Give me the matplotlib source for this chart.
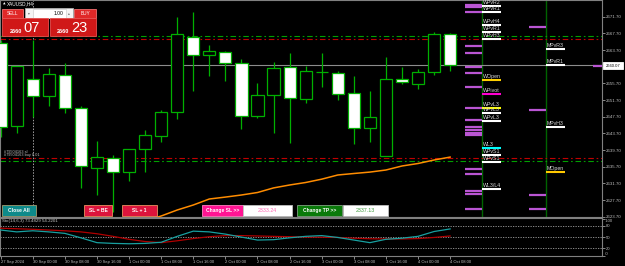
import matplotlib
matplotlib.use('Agg')
import matplotlib.pyplot as plt
import numpy as np
from matplotlib.patches import Rectangle

plt.rcParams['font.family'] = ['Liberation Sans', 'DejaVu Sans']

# ---------------- data ----------------
bar_index = list(range(-2, 27))
opens  = [2665.3, 2645.4, 2656.67, 2652.6, 2657.7, 2649.85, 2635.45, 2637.85, 2634.4, 2639.9,
          2643.0, 2648.75, 2666.9, 2662.4, 2663.1, 2660.5, 2647.9, 2652.8, 2659.6, 2652.0,
          2658.3, 2658.25, 2653.3, 2644.9, 2638.3, 2656.7, 2655.6, 2658.35, 2667.5]
highs  = [2666.0, 2659.9, 2666.1, 2659.3, 2660.5, 2650.3, 2641.9, 2638.5, 2640.0, 2644.5,
          2649.3, 2671.7, 2672.9, 2664.9, 2663.5, 2661.5, 2655.9, 2660.9, 2663.1, 2659.9,
          2662.9, 2658.7, 2657.5, 2653.9, 2662.1, 2659.7, 2659.1, 2667.95, 2667.7]
lows   = [2642.8, 2643.8, 2647.6, 2650.3, 2648.5, 2630.5, 2628.9, 2624.8, 2632.3, 2634.5,
          2641.7, 2647.1, 2653.9, 2657.5, 2656.3, 2644.7, 2647.3, 2643.85, 2641.3, 2651.05,
          2654.9, 2651.7, 2641.1, 2641.7, 2638.3, 2655.5, 2654.3, 2657.7, 2658.7]
closes = [2645.15, 2659.8, 2652.66, 2657.9, 2649.7, 2635.9, 2638.0, 2634.5, 2639.9, 2643.2,
          2648.75, 2667.5, 2662.4, 2663.4, 2660.65, 2647.9, 2652.9, 2659.4, 2652.2, 2658.7,
          2658.4, 2653.2, 2644.9, 2647.5, 2656.7, 2656.0, 2658.35, 2667.5, 2660.07]

trail_index = list(range(6, 27))
trail_values = [2621.5, 2622.66, 2623.86, 2625.3, 2626.5, 2627.94, 2628.4, 2628.9, 2629.5, 2630.6,
                2631.3, 2631.9, 2632.7, 2633.7, 2634.06, 2634.4, 2634.9, 2635.86, 2636.46,
                2637.3, 2638.0]

stoch_main   = [69, 64, 67, 64, 60, 48, 35, 33, 32, 33, 36, 52, 66, 64, 58, 50, 42, 43, 48, 52,
                54, 49, 42, 35, 44, 47, 52, 65, 72]
stoch_signal = [74, 72.5, 71, 69, 67, 64, 59, 52, 44, 38, 35, 40, 46, 51, 54, 54, 53, 52, 51, 50,
                49.6, 49, 47, 45.5, 45, 45, 46, 49, 53]

bid_price = 2660.07
ask_price = 2660.23
upper_tp, upper_sl = 2667.06, 2666.27
lower_sl, lower_tp = 2637.70, 2637.06

price_ticks = [2623.70 + 4 * i for i in range(13)]
stoch_levels = [0, 20, 50, 80, 100]
time_ticks = [-2] + list(range(0, 27, 2))
time_labels = ['27 Sep 2024', '30 Sep 00:00', '30 Sep 08:00', '30 Sep 16:00', '1 Oct 00:00',
               '1 Oct 08:00', '1 Oct 16:00', '2 Oct 00:00', '2 Oct 08:00', '2 Oct 16:00',
               '3 Oct 00:00', '3 Oct 08:00', '3 Oct 16:00', '4 Oct 00:00', '4 Oct 08:00']

weekly_zone_levels = [2674.57, 2673.95, 2672.82, 2664.73, 2662.98, 2659.69, 2658.11, 2654.75,
                      2649.85, 2646.97, 2645.22, 2644.5, 2643.85, 2643.37, 2635.14, 2633.94,
                      2629.86, 2629.07, 2625.54]
monthly_zone_levels = [2669.22, 2649.37, 2628.83, 2625.54]
next_zone_levels = [2659.86]

weekly_labels = ['WPvR2', 'WPvR1', 'WPvH4', 'WPvR1', 'WPvH3', 'WOpen', 'WPivot', 'WPvL3',
                 'WPvL3', 'WPvL3', 'WL3', 'WPvS1', 'WPvS1', 'WL3/L4']
weekly_label_prices = [2674.33, 2672.82, 2669.70, 2668.09, 2666.34, 2656.50, 2653.07, 2649.85,
                       2648.50, 2646.66, 2640.25, 2638.50, 2636.90, 2630.34]
weekly_label_colors = ['white', 'white', 'white', 'white', 'white', '#ffd000', '#ff00d0',
                       '#ffff00', 'white', 'white', '#00ffff', 'white', 'white', 'white']
monthly_labels = ['MPvR3', 'MPvR1', 'MPvH3', 'MOpen']
monthly_label_prices = [2663.87, 2660.03, 2645.29, 2634.49]
monthly_label_colors = ['white', 'white', 'white', '#ffc800']

weekly_start, monthly_start = 28, 32

# ---------------- figure ----------------
W, H = 625, 266
fig = plt.figure(figsize=(W / 100, H / 100), dpi=100, facecolor='black')
ax = fig.add_axes([0, 1 - 217 / H, 602 / W, 217 / H], facecolor='black')
ax2 = fig.add_axes([0, 1 - 256 / H, 602 / W, 38.5 / H], facecolor='black', sharex=ax)

grey = '#808080'
for a in (ax, ax2):
    for s in a.spines.values():
        s.set_color(grey)
        s.set_linewidth(0.8)

ax.set_xlim(-2.04, 35.46)
ax.set_ylim(2623.62, 2675.7)

wick = '#00b000'
x = np.array(bar_index)
o = np.array(opens); h = np.array(highs); l = np.array(lows); c = np.array(closes)
bull = c >= o

# period separator (dotted)
ax.axvline(0, color='#a0a0a0', lw=0.7, ls=(0, (1.5, 1.5)), zorder=1)

ax.vlines(x, l, h, color=wick, lw=0.9, zorder=2)
ax.bar(x, np.maximum(np.abs(c - o), 0.06), bottom=np.minimum(o, c), width=0.76,
       color=np.where(bull, 'black', 'white'), edgecolor=wick, linewidth=0.9, zorder=3)

ax.plot(trail_index, trail_values, color='#ff8c00', lw=1.1, zorder=4)

# order lines
dd = (0, (5, 2.5, 1.5, 2.5))
ax.axhline(upper_tp, color='#00a000', lw=0.8, ls=dd, zorder=1.5)
ax.axhline(upper_sl, color='#c00000', lw=0.8, ls=dd, zorder=1.5)
ax.axhline(lower_sl, color='#c00000', lw=0.8, ls=dd, zorder=1.5)
ax.axhline(lower_tp, color='#00a000', lw=0.8, ls=dd, zorder=1.5)
ax.axhline(bid_price, color='#8c8c8c', lw=0.8, zorder=1.6)

tr = ax.get_yaxis_transform()
ax.text(0.006, upper_sl + 0.35, '#79504163 sl', transform=tr, fontsize=2.8, color='#c0c0c0',
        va='bottom', zorder=5)
ax.text(0.006, lower_sl + 1.1, '#79504163 sl', transform=tr, fontsize=2.8, color='#c0c0c0',
        va='bottom', zorder=5)
ax.text(0.006, lower_sl + 0.25, '#79504163 buy 0.01', transform=tr, fontsize=2.8,
        color='#c0c0c0', va='bottom', zorder=5)

# pivot period lines and zones
ax.axvline(weekly_start, color='#006400', lw=1.0, zorder=1)
ax.axvline(monthly_start, color='#006400', lw=1.0, zorder=1)
purple = '#BA55D3'
ax.hlines(weekly_zone_levels, weekly_start - 1.07, weekly_start, color=purple, lw=1.6, zorder=4)
ax.hlines(monthly_zone_levels, monthly_start - 1.1, monthly_start, color=purple, lw=1.6, zorder=4)
ax.hlines(next_zone_levels, 34.9, 35.5, color=purple, lw=1.6, zorder=4)

for start, labels, prices, cols in ((weekly_start, weekly_labels, weekly_label_prices, weekly_label_colors),
                                    (monthly_start, monthly_labels, monthly_label_prices, monthly_label_colors)):
    ax.hlines(prices, start, start + 1.15, color=cols, lw=1.5, zorder=5)
    for t, p in zip(labels, prices):
        ax.text(start + 0.02, p + 0.25, t, fontsize=3.8, color='#d8d8d8', va='bottom',
                ha='left', zorder=6, clip_on=True)

# price axis (the tick label hidden under the bid box is left blank)
ax.yaxis.tick_right()
ax.set_yticks(price_ticks)
ax.set_yticklabels(['' if abs(v - bid_price) < 2 else f'{v:.2f}' for v in price_ticks])
ax.tick_params(axis='y', colors='#c0c0c0', labelsize=3.2, length=2, width=0.5, pad=1)
ax.tick_params(axis='x', bottom=False, labelbottom=False)

# ---------------- stochastic ----------------
ax2.set_ylim(-1, 102.8)
for lv in (80, 50, 20):
    ax2.axhline(lv, color='#a0a0a0', lw=0.6, ls=(0, (1.5, 1.5)), zorder=1)
ax2.plot(bar_index, stoch_signal, color='#b00000', lw=0.9, zorder=3)
ax2.plot(bar_index, stoch_main, color='#18a0a0', lw=0.9, zorder=4)
ax2.text(0.004, 0.9, 'Sto(14,6,3) 73.4829 54.2201', transform=ax2.transAxes, fontsize=3.2,
         color='#c8c8c8', va='center', ha='left')
ax2.yaxis.tick_right()
ax2.set_yticks(stoch_levels)
ax2.set_yticklabels(['', '20', '50', '80', ''])
ax2.tick_params(axis='y', colors='#c0c0c0', labelsize=3.0, length=2, width=0.5, pad=1)
# end labels nudged inward, as the terminal draws them
ax2.text(1.0, 100, '   100', transform=ax2.get_yaxis_transform(), fontsize=3.0, color='#c0c0c0',
         ha='left', va='top')
ax2.text(1.0, 0, '   0', transform=ax2.get_yaxis_transform(), fontsize=3.0, color='#c0c0c0',
         ha='left', va='bottom')
ax2.set_xticks(time_ticks)
ax2.set_xticklabels(time_labels)
ax2.tick_params(axis='x', colors='#c0c0c0', labelsize=3.0, length=2, width=0.5, pad=1)
for lbl in ax2.get_xticklabels():
    lbl.set_horizontalalignment('left')

# ---------------- overlay (UI) ----------------
ov = fig.add_axes([0, 0, 1, 1], zorder=10)
ov.set_xlim(0, W); ov.set_ylim(H, 0); ov.axis('off'); ov.patch.set_alpha(0)

def box(x0, x1, y0, y1, fc, ec='none', lw=0.6):
    ov.add_patch(Rectangle((x0, y0), x1 - x0, y1 - y0, facecolor=fc, edgecolor=ec, lw=lw))

def btn(x0, x1, y0, y1, fc, ec, text, tc='white', fs=3.6, weight='bold'):
    box(x0, x1, y0, y1, fc, ec)
    ov.text((x0 + x1) / 2, (y0 + y1) / 2 + 0.3, text, color=tc, fontsize=fs, weight=weight,
            ha='center', va='center')

# title
ov.text(2.5, 3.8, '\u25b2', fontsize=2.4, color='white', ha='left', va='center',
        family=['DejaVu Sans'])
ov.text(7, 4.0, 'XAUUSD,H4', fontsize=3.4, color='white', ha='left', va='center')

# trade panel
btn(2.3, 23.3, 8.7, 17.7, '#e02828', '#f07070', 'SELL', fs=3.4, weight='normal')
btn(74, 96, 8.7, 17.7, '#e02828', '#f07070', 'BUY', fs=3.4, weight='normal')
box(25, 73, 7.7, 18.3, '#f4f4f4', '#b0b0b0')
box(33, 65.7, 8.5, 17.5, 'white', '#c8c8c8', lw=0.4)
ov.text(29, 13, '\u25be', fontsize=2.6, color='#707070', ha='center', va='center', family=['DejaVu Sans'])
ov.text(69.3, 13, '\u25b4', fontsize=2.6, color='#707070', ha='center', va='center', family=['DejaVu Sans'])
ov.text(63.5, 13.2, '1.00', fontsize=3.6, color='black', ha='right', va='center')
box(2.3, 48.3, 18.3, 35.7, '#d01818', '#e85050')
box(50, 96, 18.3, 35.7, '#d01818', '#e85050')
ov.text(10, 31.5, '2660', fontsize=4.0, color='white', weight='bold', ha='left', va='center')
ov.text(23.5, 28.3, '07', fontsize=10.5, color='white', ha='left', va='center')
ov.text(57, 31.5, '2660', fontsize=4.0, color='white', weight='bold', ha='left', va='center')
ov.text(71.5, 28.3, '23', fontsize=10.5, color='white', ha='left', va='center')

# bottom buttons
btn(2, 36, 205, 216, '#0e8a8a', '#a09a70', 'Close All')
btn(84, 112, 205, 216, '#dc143c', '#e89060', 'SL = BE')
btn(122, 157, 205, 216, '#dc143c', '#e89060', 'SL + 1')
btn(202, 243, 205, 216, '#ff1493', '#ff80c0', 'Change SL >>')
btn(243, 292, 205, 216, 'white', '#c0c0c0', '2333.24', tc='#ff69b4', fs=3.8, weight='normal')
btn(297, 342, 205, 216, '#0a7a0a', '#80a080', 'Change TP >>')
btn(343, 388, 205, 216, 'white', '#c0c0c0', '2337.13', tc='#3c9a3c', fs=3.8, weight='normal')

# bid label on price axis
box(602.5, 623, 62.2, 68.8, 'white', 'white')
ov.text(612.7, 65.6, f'{bid_price:.2f}', fontsize=3.0, color='black', ha='center', va='center')

fig.savefig('out.png', dpi=100, facecolor='black')
